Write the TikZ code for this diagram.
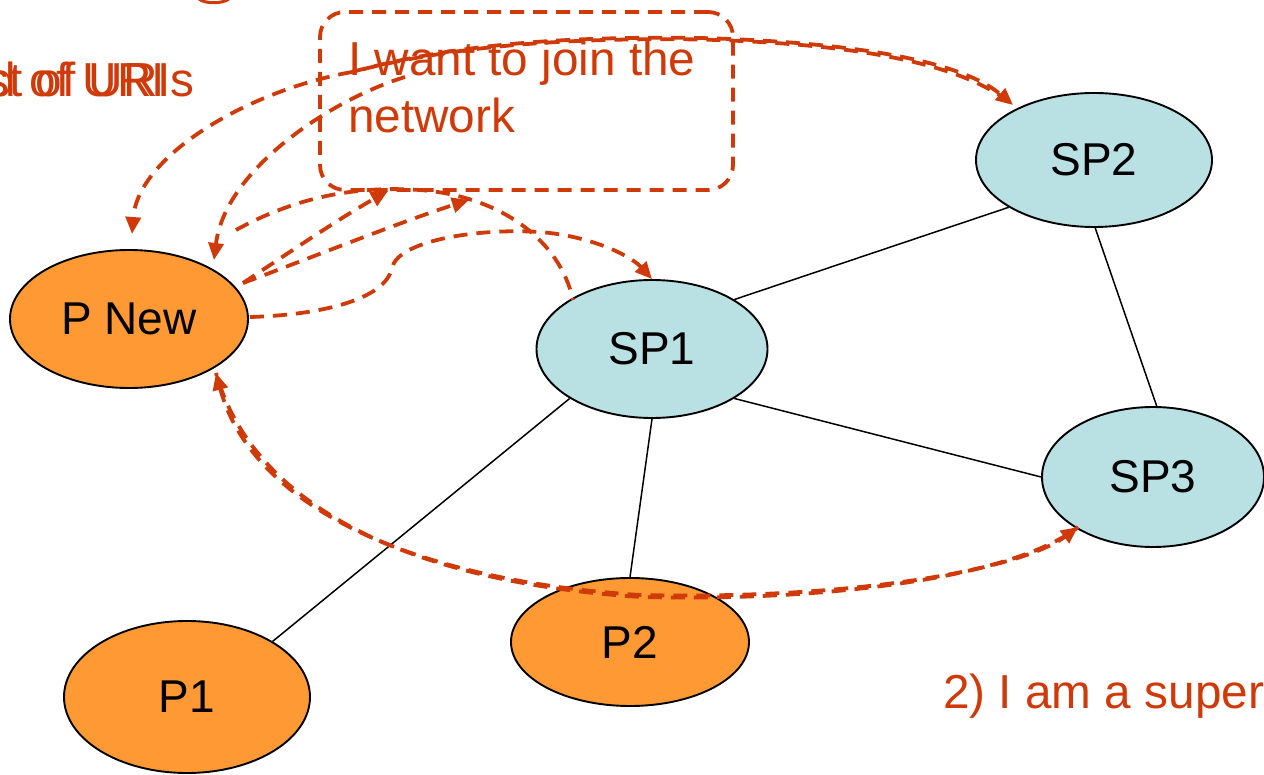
\documentclass[tikz,border=0pt]{standalone}
\usepackage{fontspec}
\setmainfont{Liberation Sans}
\usetikzlibrary{shapes.geometric,arrows.meta}
\definecolor{msgred}{RGB}{208,58,8}
\definecolor{peerorange}{RGB}{255,153,51}
\definecolor{superblue}{RGB}{185,224,227}
\begin{document}
\begin{tikzpicture}[x=1pt,y=-1pt,
  peer/.style={ellipse, draw=black, line width=1.9pt, fill=peerorange, inner sep=0pt,
    font=\fontsize{46}{46}\selectfont},
  superpeer/.style={peer, fill=superblue},
  link/.style={draw=black, line width=1.5pt},
  msg/.style={draw=msgred, line width=3.8pt, dash pattern=on 14pt off 9pt},
  msgtwin/.style={msg, dash phase=11pt},
  tipend/.style={-{Triangle[length=17pt,width=15pt]}},
  tipboth/.style={{Triangle[length=17pt,width=15pt]}-{Triangle[length=17pt,width=15pt]}},
  caption/.style={text=msgred, inner sep=0pt, font=\fontsize{47.7}{57}\selectfont},
]
\useasboundingbox (0,0) rectangle (1264,775);

% peers and super peers
\node[peer, minimum width=238pt, minimum height=138pt] (pnew) at (129,319) {P New};
\node[superpeer, minimum width=231pt, minimum height=138pt] (sp1) at (652,349) {SP1};
\node[superpeer, minimum width=236pt, minimum height=134pt] (sp2) at (1094,160) {SP2};
\node[superpeer, minimum width=222pt, minimum height=140pt] (sp3) at (1153,477) {SP3};
\node[peer, minimum width=238pt, minimum height=128pt] (p2) at (630,642) {P2};
\node[peer, minimum width=246pt, minimum height=152pt] (p1) at (187,697) {P1};

% overlay links
\draw[link] (sp1.31) -- (sp2.209);
\draw[link] (sp1.-31) -- (sp3.180);
\draw[link] (sp2.-89) -- (sp3.87);
\draw[link] (sp1.211) -- (p1.33);
\draw[link] (sp1.-90) -- (p2.90);

% join request bubble
\node[draw=msgred, line width=3.8pt, dash pattern=on 14pt off 9pt, rounded corners=25pt,
  minimum width=413pt, minimum height=178pt, inner sep=0pt] (bubble) at (526.5,101) {};
\node[caption, anchor=base west] (reqa) at (348,76) {I want to join the};
\node[caption, anchor=base west] (reqb) at (348,133) {network};

% left caption (two overlapping states)
\node[caption, anchor=base east] (lista) at (195,97) {st of URIs};
\node[caption, anchor=base east] (listb) at (165,97) {oad of URI};
% bottom caption
\node[caption, anchor=base west] (supercap) at (943,708) {2) I am a super};

% message end points
\coordinate (src) at (352,72);
\coordinate (src2) at (405,77);
\coordinate (topin) at (132,234);
\coordinate (topin2) at (214,260);
\coordinate (arcstart) at (236,230);
\coordinate (arcend) at (573,300);
\coordinate (rightout) at (243,283);
\coordinate (hitA) at (388,191);
\coordinate (hitB) at (469,200);
\coordinate (eastout) at (250,317);
\coordinate (lowin) at (216,373);
\coordinate (sp3in) at (1078,527);
\coordinate (sp2in) at (1013,105);

% messages
\draw[msg, tipend] (src) .. controls (250,90) and (138,155) .. (topin);
\draw[msg, tipend] (src2) .. controls (330,100) and (225,170) .. (topin2);
\draw[msg] (arcstart) .. controls (300,195) and (360,186) .. (420,190)
  .. controls (500,196) and (560,240) .. (arcend);
\draw[msg, tipend] (rightout) .. controls (290,252) and (340,218) .. (hitA);
\draw[msg, tipend] (rightout) .. controls (300,262) and (400,222) .. (hitB);
\draw[msg, tipend] (eastout) .. controls (320,315) and (385,300) .. (392,268)
  .. controls (398,240) and (480,228) .. (540,232)
  .. controls (590,236) and (630,255) .. (sp1.north);

% doubled messages
\draw[msg, tipend] (src) .. controls (450,45) and (560,36) .. (700,38)
  .. controls (850,42) and (960,60) .. (sp2in);
\draw[msgtwin, shift={(0,1.5)}] (src) .. controls (450,45) and (560,36) .. (700,38)
  .. controls (850,42) and (960,60) .. (sp2in);
\draw[msg, tipboth] (lowin) .. controls (250,500) and (400,580) .. (640,595)
  .. controls (850,600) and (1020,570) .. (sp3in);
\draw[msgtwin, shift={(2,2)}] (lowin) .. controls (250,500) and (400,580) .. (640,595)
  .. controls (850,600) and (1020,570) .. (sp3in);

% edge of a title glyph
\draw[msgred, line width=3pt] (199,-1) .. controls (205,4) and (222,4) .. (229,-1);
\end{tikzpicture}
\end{document}
